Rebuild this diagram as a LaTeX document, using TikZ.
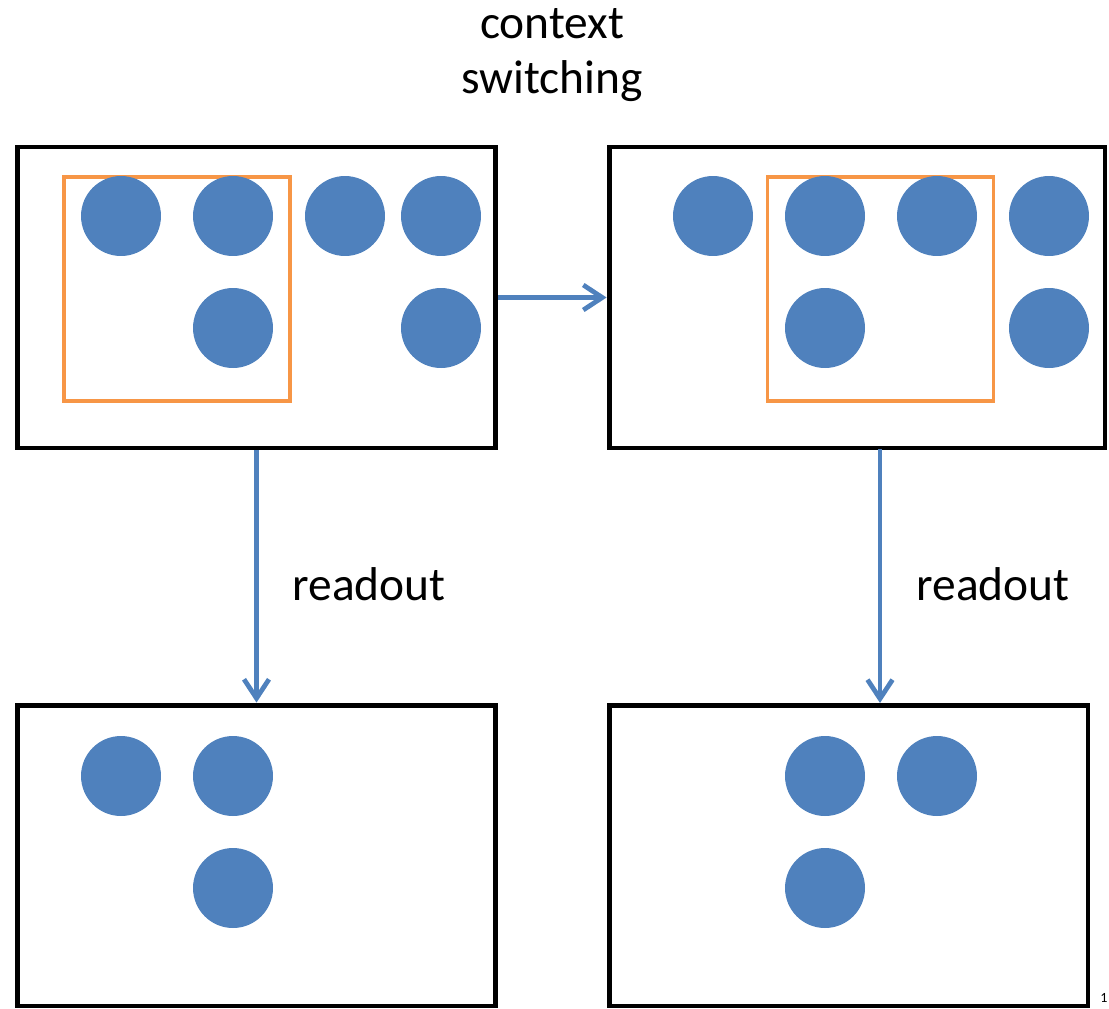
\documentclass[tikz,border=0pt]{standalone}
\usepackage{fontspec}
\setmainfont{Carlito}
\usetikzlibrary{arrows.meta,positioning}

\definecolor{dotblue}{HTML}{4F81BD}
\definecolor{ctxorange}{HTML}{F79646}

\begin{document}
\begin{tikzpicture}[x=0.02cm, y=-0.02cm,
		frame/.style={draw, line width=2.8pt, minimum width=9.58cm, minimum height=6.02cm, inner sep=0pt},
		ctxbox/.style={draw=ctxorange, line width=2.2pt, minimum width=4.52cm, minimum height=4.48cm, inner sep=0pt},
		dot/.style={circle, fill=dotblue, minimum size=1.6cm, inner sep=0pt},
		flow/.style={draw=dotblue, line width=2.7pt, -{Straight Barb[length=0.38cm, width=0.5cm]}},
		lbl/.style={font=\fontsize{27}{31.3}\selectfont, align=center}]
	\useasboundingbox (0,0) rectangle (1109,1008);

	% frames
	\node[frame] (tl) at (256.5,297.5) {};
	\node[frame, minimum width=9.92cm] (tr) at (857,297.5) {};
	\node[frame] (bl) at (256.5,855.5) {};
	\node[frame] (br) at (848.5,855.5) {};

	% context windows
	\node[ctxbox] (wl) at (177,289) {};
	\node[ctxbox] (wr) at (880.5,289) {};

	% top left dots
	\node[dot] (a1) at (121,216) {};
	\node[dot] (a2) at (233,216) {};
	\node[dot] (a3) at (345,216) {};
	\node[dot] (a4) at (441,216) {};
	\node[dot] (a5) at (233,328) {};
	\node[dot] (a6) at (441,328) {};

	% top right dots
	\node[dot] (b1) at (713,216) {};
	\node[dot] (b2) at (825,216) {};
	\node[dot] (b3) at (937,216) {};
	\node[dot] (b4) at (1049,216) {};
	\node[dot] (b5) at (825,328) {};
	\node[dot] (b6) at (1049,328) {};

	% readouts
	\node[dot] (c1) at (121,776) {};
	\node[dot] (c2) at (233,776) {};
	\node[dot] (c3) at (233,888) {};
	\node[dot] (d1) at (825,776) {};
	\node[dot] (d2) at (937,776) {};
	\node[dot] (d3) at (825,888) {};

	% connectors
	\coordinate (trout) at (880,449);
	\coordinate (brin) at (880,703);
	\draw[flow] (tl.east) -- (tr.west);
	\draw[flow] (tl.south) -- (bl.north);
	\draw[flow] (trout) -- (brin);

	\node[lbl] (switch) at (552,55) {context\\switching};
	\node[lbl] (rl) at (369,584) {readout};
	\node[lbl] (rr) at (993,584) {readout};
	\node[font=\fontsize{8}{9}\selectfont, anchor=north west, inner sep=0pt] (pg) at (1100,993) {1};
\end{tikzpicture}
\end{document}
